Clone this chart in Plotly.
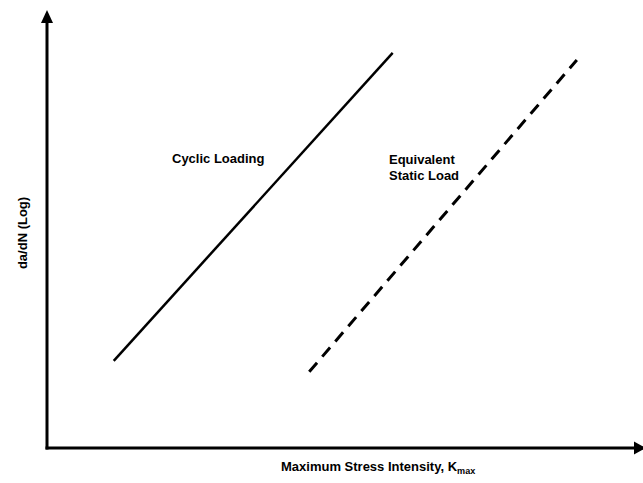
import plotly.graph_objects as go

# Schematic data (arbitrary units: x = K_max, y = log(da/dN))
cyclic_k = [1.12, 5.80]
cyclic_rate = [1.99, 9.02]
static_k = [4.40, 8.89]
static_rate = [1.74, 8.86]

x_title = "Maximum Stress Intensity, K<sub>max</sub>"
y_title = "da/dN (Log)"
label_cyclic = "Cyclic Loading"
label_static = ["Equivalent", "Static Load"]

FONT = "Liberation Sans, Arial, sans-serif"
TXT = dict(family=FONT, size=13, color="black")

fig = go.Figure()
fig.add_trace(go.Scatter(x=cyclic_k, y=cyclic_rate, mode="lines",
                         line=dict(color="black", width=2.5), showlegend=False,
                         hoverinfo="skip"))
fig.add_trace(go.Scatter(x=static_k, y=static_rate, mode="lines",
                         line=dict(color="black", width=3, dash="12px,8px"),
                         showlegend=False, hoverinfo="skip"))

shapes = [
    # axis lines
    dict(type="line", xref="x", yref="y", x0=0, y0=-0.034, x1=0, y1=9.75,
         line=dict(color="black", width=3)),
    dict(type="line", xref="x", yref="y", x0=-0.025, y0=0, x1=10.0, y1=0,
         line=dict(color="black", width=3)),
    # arrowheads
    dict(type="path", xref="x", yref="y", xsizemode="pixel", ysizemode="pixel",
         xanchor=0, yanchor=10.0, path="M-6,-13 L6,-13 L0,0 Z",
         fillcolor="black", line=dict(width=0)),
    dict(type="path", xref="x", yref="y", xsizemode="pixel", ysizemode="pixel",
         xanchor=10.05, yanchor=0, path="M-12,-6.5 L-12,6.5 L0,0 Z",
         fillcolor="black", line=dict(width=0)),
]

anns = [
    dict(x=2.87, y=6.62, xref="x", yref="y", text="<b>%s</b>" % label_cyclic,
         showarrow=False, font=TXT, xanchor="center", yanchor="middle"),
    dict(x=5.70, y=6.58, xref="x", yref="y", text="<b>%s</b>" % label_static[0],
         showarrow=False, font=TXT, xanchor="left", yanchor="middle"),
    dict(x=5.70, y=6.23, xref="x", yref="y", text="<b>%s</b>" % label_static[1],
         showarrow=False, font=TXT, xanchor="left", yanchor="middle"),
    dict(x=0.5627, y=-0.0197, xref="paper", yref="paper", text="<b>%s</b>" % x_title,
         showarrow=False, font=TXT, xanchor="center", yanchor="middle"),
    dict(x=-0.0248, y=0.491, xref="paper", yref="paper", text="<b>%s</b>" % y_title,
         showarrow=False, textangle=-90, font=TXT, xanchor="center", yanchor="middle"),
]

fig.update_layout(
    width=643, height=483,
    margin=dict(l=37, r=0, t=0, b=25),
    paper_bgcolor="white", plot_bgcolor="white",
    xaxis=dict(range=[-0.1678, 10.0], visible=False, fixedrange=True),
    yaxis=dict(range=[-0.2283, 10.228], visible=False, fixedrange=True),
    shapes=shapes,
    annotations=anns,
)

fig.write_html("out.html", config=dict(displayModeBar=False),
               post_script="document.body.style.margin='0';document.body.style.overflow='hidden';")
